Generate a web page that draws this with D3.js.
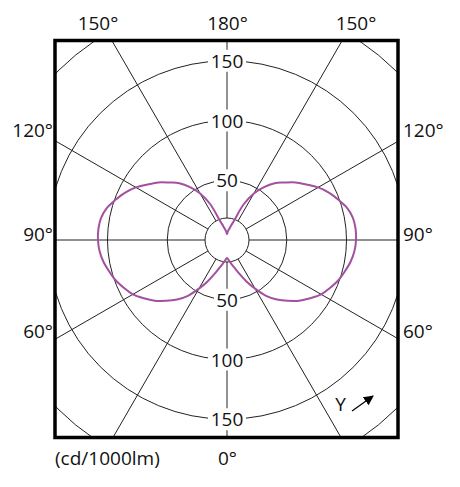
<!DOCTYPE html>
<html>
<head>
<meta charset="utf-8">
<script src="https://cdn.jsdelivr.net/npm/d3@7"></script>
<style>
    body { margin: 0; background: #fff; }
    svg text { font-family: "Open Sans", "Noto Sans", sans-serif; fill: #111; }
</style>
</head>
<body>
<svg id="chart" width="460" height="487"></svg>
<script>
// luminous intensity (cd/1000lm) by gamma angle, same in both half planes
const gammaDeg = [0, 5, 10, 15, 20, 25, 30, 35, 40, 45, 50, 55, 60, 65, 70, 75, 80, 85, 90,
    95, 100, 105, 110, 115, 120, 125, 130, 135, 140, 145, 150, 155, 160, 165, 170, 175, 180];
const intensity = [15, 17, 20, 24, 30, 38, 47, 57, 65, 72, 79, 85, 91, 95, 99, 102, 105, 107, 108,
    108, 107, 104, 99, 94, 88, 81, 75, 68, 62, 54, 45, 33, 17, 12, 9, 7, 5];

const ringValues = [50, 100, 150, 200];
const ringLabels = [50, 100, 150];
const spokeAngles = [0, 30, 60, 90, 120, 150, 180];
const topLabels = ['150°', '180°', '150°'];
const sideLabels = ['120°', '90°', '60°'];
const bottomLabel = '0°';
const unitLabel = '(cd/1000lm)';

const svg = d3.select('#chart');
const frame = { x0: 55, y0: 40.5, x1: 398, y1: 437.5 };
const cx = 227, cy = 240;
const innerR = 22;
const curveColor = '#a3509e';

const r = d3.scaleLinear().domain([0, 200]).range([0, 239]);
const rad = d => d * Math.PI / 180;

svg.append('clipPath').attr('id', 'frame-clip')
    .append('rect')
    .attr('x', frame.x0).attr('y', frame.y0)
    .attr('width', frame.x1 - frame.x0).attr('height', frame.y1 - frame.y0);

const plot = svg.append('g').attr('clip-path', 'url(#frame-clip)');
const g = plot.append('g').attr('transform', `translate(${cx},${cy})`);

// rings
g.selectAll('.ring')
    .data(ringValues)
    .enter().append('circle')
    .attr('class', 'ring')
    .attr('r', d => r(d))
    .style('fill', 'none')
    .style('stroke', '#222')
    .style('stroke-width', 1);

// spokes, gamma measured from straight down, both half planes
const spokes = [];
spokeAngles.forEach(a => {
    spokes.push(Math.PI - rad(a));
    if (a > 0 && a < 180) spokes.push(Math.PI + rad(a));
});
g.selectAll('.spoke')
    .data(spokes)
    .enter().append('line')
    .attr('class', 'spoke')
    .attr('x1', d => innerR * Math.sin(d))
    .attr('y1', d => -innerR * Math.cos(d))
    .attr('x2', d => 400 * Math.sin(d))
    .attr('y2', d => -400 * Math.cos(d))
    .style('stroke', '#222')
    .style('stroke-width', 1);

// ring value labels on the vertical axis, above and below
const ringLabelPos = [];
ringLabels.forEach(v => {
    ringLabelPos.push({ v: v, y: -r(v) });
    ringLabelPos.push({ v: v, y: r(v) });
});
const lab = g.selectAll('.ring-label')
    .data(ringLabelPos)
    .enter().append('g')
    .attr('class', 'ring-label')
    .attr('transform', d => `translate(0,${d.y})`);
lab.append('rect')
    .attr('x', d => d.v >= 100 ? -19 : -13)
    .attr('y', -11)
    .attr('width', d => d.v >= 100 ? 38 : 26)
    .attr('height', 22)
    .style('fill', '#fff');
lab.append('text')
    .text(d => d.v)
    .attr('y', 7)
    .style('text-anchor', 'middle')
    .style('font-size', '19px');

g.append('circle')
    .attr('r', innerR)
    .style('fill', '#fff')
    .style('stroke', '#222')
    .style('stroke-width', 1);

// intensity curve: right half 0..180, then left half back down
const pts = gammaDeg.map((a, i) => [Math.PI - rad(a), r(intensity[i])]);
for (let i = gammaDeg.length - 2; i > 0; i--) {
    pts.push([Math.PI + rad(gammaDeg[i]), r(intensity[i])]);
}
const radial = d3.lineRadial()
    .angle(d => d[0])
    .radius(d => d[1])
    .curve(d3.curveCatmullRomClosed.alpha(0.5));
g.append('path')
    .attr('d', radial(pts))
    .style('fill', 'none')
    .style('stroke', curveColor)
    .style('stroke-width', 2);

// frame
svg.append('rect')
    .attr('x', frame.x0).attr('y', frame.y0)
    .attr('width', frame.x1 - frame.x0).attr('height', frame.y1 - frame.y0)
    .style('fill', 'none')
    .style('stroke', '#000')
    .style('stroke-width', 3.5);

// angle labels
const topX = [98, 227.5, 356];
svg.selectAll('.top-label')
    .data(topLabels)
    .enter().append('text')
    .attr('x', (d, i) => topX[i])
    .attr('y', 30)
    .style('text-anchor', 'middle')
    .style('font-size', '19px')
    .text(d => d);

const sideY = [137, 241, 338];
svg.selectAll('.left-label')
    .data(sideLabels)
    .enter().append('text')
    .attr('x', 53)
    .attr('y', (d, i) => sideY[i])
    .style('text-anchor', 'end')
    .style('font-size', '19px')
    .text(d => d);
svg.selectAll('.right-label')
    .data(sideLabels)
    .enter().append('text')
    .attr('x', 403)
    .attr('y', (d, i) => sideY[i])
    .style('font-size', '19px')
    .text(d => d);

svg.append('text')
    .attr('x', 227.5).attr('y', 465)
    .style('text-anchor', 'middle')
    .style('font-size', '19px')
    .text(bottomLabel);
svg.append('text')
    .attr('x', 55).attr('y', 465)
    .style('font-size', '19px')
    .text(unitLabel);

// gamma direction marker
svg.append('defs').append('marker')
    .attr('id', 'arrow')
    .attr('viewBox', '0 0 10 10')
    .attr('refX', 9).attr('refY', 5)
    .attr('markerWidth', 10).attr('markerHeight', 10)
    .attr('markerUnits', 'userSpaceOnUse')
    .attr('orient', 'auto')
    .append('path')
    .attr('d', 'M0,0L10,5L0,10Z')
    .style('fill', '#000');
svg.append('text')
    .attr('x', 340.5).attr('y', 411)
    .style('text-anchor', 'middle')
    .style('font-size', '19px')
    .text('Y');
svg.append('line')
    .attr('x1', 352).attr('y1', 411)
    .attr('x2', 373).attr('y2', 396)
    .attr('marker-end', 'url(#arrow)')
    .style('stroke', '#000')
    .style('stroke-width', 1.2);
</script>
</body>
</html>
